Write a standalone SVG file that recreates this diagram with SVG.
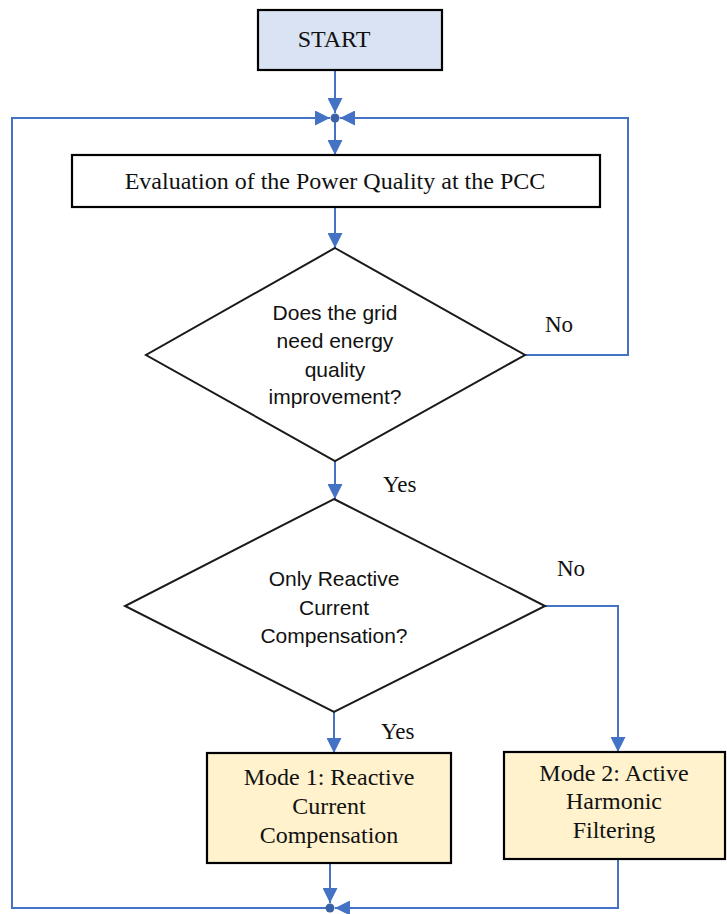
<svg xmlns="http://www.w3.org/2000/svg" width="727" height="914" viewBox="0 0 727 914">
  <style>
    .box { stroke: #000; stroke-width: 2.2; }
    .start { fill: #dae3f3; }
    .plain { fill: #fff; }
    .mode { fill: #fff2cc; }
    .dia { fill: #fff; stroke: #1a1a1a; stroke-width: 2; }
    .serif { font-family: "Liberation Serif", "Times New Roman", serif; font-size: 24px; fill: #111; text-anchor: middle; }
    .sans { font-family: "Liberation Sans", Arial, sans-serif; font-size: 21px; fill: #111; text-anchor: middle; }
    .lbl { font-family: "Liberation Serif", "Times New Roman", serif; font-size: 23px; fill: #111; }
    .wire { fill: none; stroke: #4472c4; stroke-width: 2; }
    .dot { fill: #3a62a8; }
  </style>
  <defs>
    <marker id="arrow" markerUnits="userSpaceOnUse" markerWidth="15" markerHeight="15" viewBox="0 0 15 15" refX="15" refY="7.5" orient="auto">
      <path d="M0,0 L15,7.5 L0,15 Z" fill="#4472c4"/>
    </marker>
  </defs>

  <!-- connectors -->
  <g id="connectors">
    <path class="wire" d="M335,70 V113" marker-end="url(#arrow)"/>
    <path class="wire" d="M335,118 V155" marker-end="url(#arrow)"/>
    <path class="wire" d="M335,207 V248" marker-end="url(#arrow)"/>
    <path class="wire" d="M335,461 V499" marker-end="url(#arrow)"/>
    <path class="wire" d="M525,355 H628 V118 H340" marker-end="url(#arrow)"/>
    <path class="wire" d="M545,606 H618 V752" marker-end="url(#arrow)"/>
    <path class="wire" d="M334,712 V753" marker-end="url(#arrow)"/>
    <path class="wire" d="M330,863 V903" marker-end="url(#arrow)"/>
    <path class="wire" d="M618,859 V908 H335" marker-end="url(#arrow)"/>
    <path class="wire" d="M330,908 H12 V118 H330" marker-end="url(#arrow)"/>
    <circle class="dot" cx="335" cy="118" r="4.5"/>
    <circle class="dot" cx="330" cy="908" r="4.5"/>
    <text class="lbl" x="545" y="332">No</text>
    <text class="lbl" x="383" y="492">Yes</text>
    <text class="lbl" x="557" y="576">No</text>
    <text class="lbl" x="381" y="739">Yes</text>
  </g>

  <g id="start">
    <rect class="box start" x="258" y="10" width="184" height="60"/>
    <text class="serif" x="334" y="47">START</text>
  </g>

  <g id="evaluate">
    <rect class="box plain" x="72" y="155" width="528" height="52"/>
    <text class="serif" x="335" y="189">Evaluation of the Power Quality at the PCC</text>
  </g>

  <g id="need-improvement">
    <polygon class="dia" points="335,248 525,355 335,461 146,355"/>
    <text class="sans" x="335" y="320">Does the grid</text>
    <text class="sans" x="335" y="348">need energy</text>
    <text class="sans" x="335" y="377">quality</text>
    <text class="sans" x="335" y="404">improvement?</text>
  </g>

  <g id="only-reactive">
    <polygon class="dia" points="334,499 545,606 334,712 125,606"/>
    <text class="sans" x="334" y="586">Only Reactive</text>
    <text class="sans" x="334" y="615">Current</text>
    <text class="sans" x="334" y="643">Compensation?</text>
  </g>

  <g id="mode1">
    <rect class="box mode" x="207" y="753" width="244" height="110"/>
    <text class="serif" x="329" y="785">Mode 1: Reactive</text>
    <text class="serif" x="329" y="814">Current</text>
    <text class="serif" x="329" y="843">Compensation</text>
  </g>

  <g id="mode2">
    <rect class="box mode" x="504" y="752" width="221" height="107"/>
    <text class="serif" x="614" y="781">Mode 2: Active</text>
    <text class="serif" x="614" y="809">Harmonic</text>
    <text class="serif" x="614" y="838">Filtering</text>
  </g>
</svg>
